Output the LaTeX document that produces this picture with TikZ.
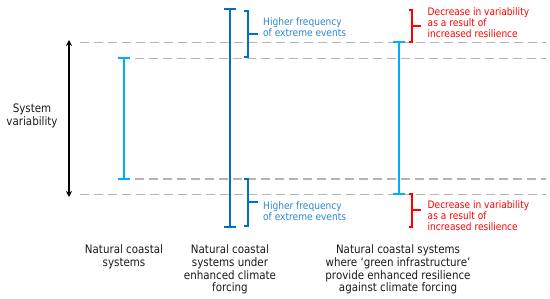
\documentclass[tikz,border=0pt]{standalone}
\usepackage{fontspec}
\setmainfont[FakeStretch=0.88]{DejaVu Sans}
\usetikzlibrary{arrows.meta}
\definecolor{lblue}{HTML}{00B0F0}
\definecolor{dblue}{HTML}{0070C0}
\definecolor{tblue}{HTML}{2A86D6}
\definecolor{dgray}{HTML}{B4B4B4}
\definecolor{txt}{HTML}{1A1A1A}
\begin{document}
\begin{tikzpicture}[x=1pt,y=-1pt,
  guide/.style={dgray,line width=1.5pt,dash pattern=on 9pt off 5pt},
  bar/.style={line width=2pt},
  barcap/.style={line width=2pt},
  brk/.style={line width=2pt},
  lbl/.style={font=\fontsize{11.7}{12.8}\selectfont,align=center,anchor=north,inner sep=0pt,text=txt},
  note/.style={font=\fontsize{10.3}{11.2}\selectfont,align=left,anchor=west,inner sep=0pt}
]
\useasboundingbox (0,0) rectangle (550,299);
% dashed guides
\coordinate (g1a) at (80,42.5);  \coordinate (g1b) at (546,42.5);
\coordinate (g2a) at (135,58.5); \coordinate (g2b) at (546,58.5);
\coordinate (g3a) at (135,179);  \coordinate (g3b) at (546,179);
\coordinate (g4a) at (80,194.5); \coordinate (g4b) at (546,194.5);
\draw[guide] (g1a) -- (g1b);
\draw[guide] (g2a) -- (g2b);
\draw[guide] (g3a) -- (g3b);
\draw[guide] (g4a) -- (g4b);
% system variability arrow
\coordinate (at) at (69,40);
\coordinate (ab) at (69,197);
\draw[line width=1.5pt,{Stealth[length=6pt,width=6pt]}-{Stealth[length=6pt,width=6pt]}] (at) -- (ab);
\node[lbl,anchor=center] (sv) at (32,115.5) {System\\variability};
% bar 1
\coordinate (b1t) at (124,58.5); \coordinate (b1b) at (124,179);
\draw[bar,lblue] (b1t) -- (b1b);
\draw[barcap,lblue] ([xshift=-6pt]b1t) -- ([xshift=6pt]b1t);
\draw[barcap,lblue] ([xshift=-6pt]b1b) -- ([xshift=6pt]b1b);
% bar 2
\coordinate (b2t) at (230,9); \coordinate (b2b) at (230,227);
\draw[bar,dblue] (b2t) -- (b2b);
\draw[barcap,dblue] ([xshift=-6pt]b2t) -- ([xshift=6pt]b2t);
\draw[barcap,dblue] ([xshift=-6pt]b2b) -- ([xshift=6pt]b2b);
% bar 3
\coordinate (b3t) at (399,42.5); \coordinate (b3b) at (399,194.5);
\draw[bar,lblue] (b3t) -- (b3b);
\draw[barcap,lblue] ([xshift=-6pt]b3t) -- ([xshift=6pt]b3t);
\draw[barcap,lblue] ([xshift=-6pt]b3b) -- ([xshift=6pt]b3b);
% blue brackets
\draw[brk,dblue] (244,11) -- (247.5,11) -- (247.5,57) -- (244,57);
\draw[brk,dblue] (247.5,34) -- (258,34);
\draw[brk,dblue] (244,179.5) -- (247.5,179.5) -- (247.5,226) -- (244,226);
\draw[brk,dblue] (247.5,202.5) -- (258,202.5);
\node[note,text=tblue] (hf1) at (263,27) {Higher frequency\\of extreme events};
\node[note,text=tblue] (hf2) at (263,211) {Higher frequency\\of extreme events};
% red brackets
\draw[brk,red] (408.5,10) -- (412,10) -- (412,42) -- (408.5,42);
\draw[brk,red] (412,26) -- (421,26);
\draw[brk,red] (408.5,194) -- (412,194) -- (412,227) -- (408.5,227);
\draw[brk,red] (412,210.5) -- (421,210.5);
\node[note,text=red] (dv1) at (427.5,22.5) {Decrease in variability\\as a result of\\increased resilience};
\node[note,text=red] (dv2) at (427.5,215.5) {Decrease in variability\\as a result of\\increased resilience};
% bottom labels
\node[lbl] (l1) at (124,244.5) {Natural coastal\\systems};
\node[lbl] (l2) at (230,244.5) {Natural coastal\\systems under\\enhanced climate\\forcing};
\node[lbl] (l3) at (398,244.5) {Natural coastal systems\\where ‘green infrastructure’\\provide enhanced resilience\\against climate forcing};
\end{tikzpicture}
\end{document}
